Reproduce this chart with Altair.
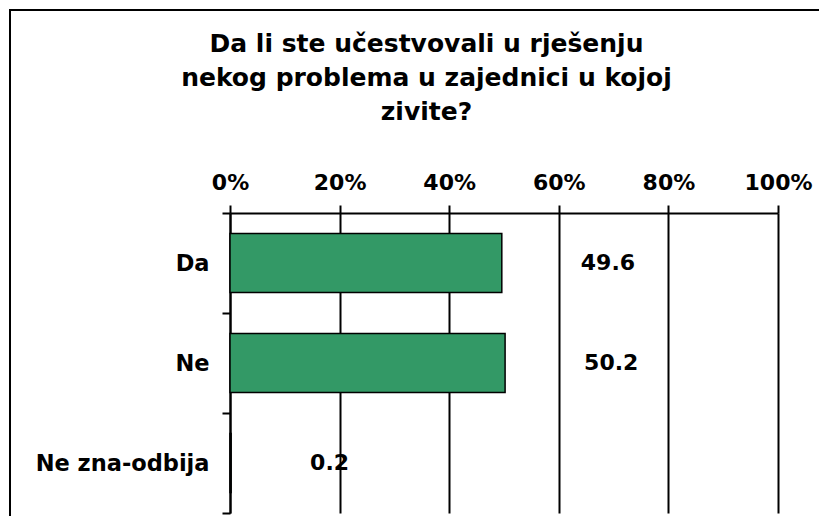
import altair as alt
import pandas as pd

CATEGORIES = ["Da", "Ne", "Ne zna-odbija"]
VALUES = [49.6, 50.2, 0.2]
X_TICKS = [0, 20, 40, 60, 80, 100]
TITLE_LINES = ["Da li ste učestvovali u rješenju",
               "nekog problema u zajednici u kojoj",
               "zivite?"]

FONT = "DejaVu Sans"
GREEN = "#339966"

df = pd.DataFrame({"cat": CATEGORIES, "val": VALUES})

x_enc = alt.X(
    "val:Q",
    scale=alt.Scale(domain=[0, 100], nice=False, zero=True),
    axis=alt.Axis(
        orient="top", values=X_TICKS, labelExpr="datum.value + '%'", title=None,
        labelFlush=False, labelOverlap=False,
        grid=True, gridColor="black", gridWidth=2,
        domainColor="black", domainWidth=2,
        tickColor="black", tickWidth=2, tickSize=8,
        labelPadding=11, labelFontSize=22, labelFont=FONT,
        labelFontWeight="bold", labelColor="black",
    ),
)
y_enc = alt.Y(
    "cat:N", sort=CATEGORIES,
    scale=alt.Scale(paddingInner=0, paddingOuter=0),
    axis=alt.Axis(
        title=None, tickBand="extent",
        domainColor="black", domainWidth=2,
        tickColor="black", tickWidth=2, tickSize=8,
        labelPadding=13, labelFontSize=22.5, labelFont=FONT,
        labelFontWeight="bold", labelColor="black",
    ),
)

base = alt.Chart(df)

bars = base.mark_bar(
    color=GREEN, stroke="black", strokeWidth=1.5, height=alt.RelativeBandSize(0.59)
).encode(x=x_enc, y=y_enc)

labels = base.mark_text(
    align="left", baseline="middle", dx=79, fontSize=22, font=FONT,
    fontWeight="bold", color="black",
).encode(x=alt.X("val:Q"), y=alt.Y("cat:N", sort=CATEGORIES), text=alt.Text("val:Q", format=".1f"))

one = pd.DataFrame({"f": [0]})

frame_left = alt.Chart(one).mark_rule(color="black", strokeWidth=2).encode(
    x=alt.value(-220), y=alt.value(-204), y2=alt.value(303))
frame_top = alt.Chart(one).mark_rule(color="black", strokeWidth=2).encode(
    x=alt.value(-221), x2=alt.value(589), y=alt.value(-203))

title = alt.Chart(one).mark_text(
    text=TITLE_LINES, align="center", baseline="alphabetic", fontSize=25,
    font=FONT, fontWeight="bold", color="black", lineHeight=34,
).encode(x=alt.value(196.5), y=alt.value(-161))

chart = alt.layer(frame_left, frame_top, title, bars, labels).properties(
    width=548, height=300,
    padding={"left": 222, "top": 205, "right": 41, "bottom": 3},
    autosize=alt.AutoSizeParams(type="none"),
).configure_view(strokeWidth=0)

chart.save("out.html", embed_options={"renderer": "svg", "actions": False})
